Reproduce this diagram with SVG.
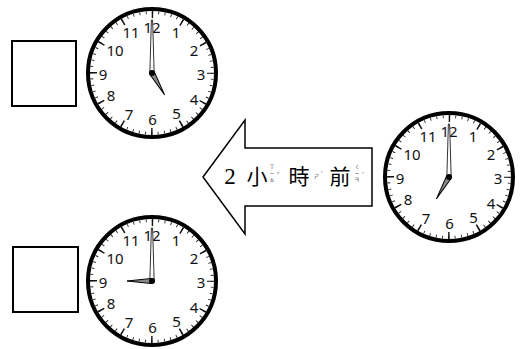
<svg xmlns="http://www.w3.org/2000/svg" width="520" height="349" viewBox="0 0 520 349">
  <style>
    .num { font-family: "Noto Sans", "Liberation Sans", sans-serif; font-size: 15px; fill: #111; text-anchor: middle; dominant-baseline: central; }
    .ring { fill: #fff; stroke: #000; stroke-width: 4; }
    .mtick { fill: none; stroke: #222; stroke-width: 3; stroke-dasharray: 0.9 5.4355; stroke-dashoffset: 0.45; }
    .htick { fill: none; stroke: #111; stroke-width: 7; stroke-dasharray: 1.5 29.131; stroke-dashoffset: 0.75; }
    .minute { fill: #fff; stroke: #333; stroke-width: 1; stroke-linejoin: round; }
    .hour { fill: #8a8a8a; stroke: #000; stroke-width: 1; stroke-linejoin: round; }
    .box { fill: #fff; stroke: #000; stroke-width: 2; }
    .arrow { fill: #fff; stroke: #000; stroke-width: 1.5; stroke-linejoin: miter; }
    .big { font-family: "Noto Sans CJK TC", "Noto Sans CJK SC", sans-serif; font-size: 21px; fill: #000; text-anchor: middle; }
    .digit { font-family: "Liberation Serif", serif; font-size: 23px; fill: #000; text-anchor: middle; }
    .zy { font-family: "Noto Sans CJK TC", "Noto Sans CJK SC", sans-serif; font-size: 4.5px; fill: #000; text-anchor: middle; }
  </style>
  <defs>
    <g id="face">
      <circle class="ring" r="64"/>
      <circle class="mtick" r="60.5"/>
      <circle class="htick" r="58.5"/>
      <text class="num" x="0" y="-46">12</text>
      <text class="num" x="24" y="-41">1</text>
      <text class="num" x="42" y="-23">2</text>
      <text class="num" x="49" y="1">3</text>
      <text class="num" x="42" y="26">4</text>
      <text class="num" x="24.5" y="40">5</text>
      <text class="num" x="0.5" y="46">6</text>
      <text class="num" x="-23" y="41">7</text>
      <text class="num" x="-41" y="22">8</text>
      <text class="num" x="-49" y="1">9</text>
      <text class="num" x="-37" y="-23">10</text>
      <text class="num" x="-21" y="-41">11</text>
    </g>
    <polygon id="minHand" class="minute" points="-2.2,1 -0.6,-53 0.6,-53 2.2,1"/>
    <polygon id="hourHand" class="hour" points="-2.6,0 0,-25 2.6,0"/>
  </defs>

  <g id="box-top">
    <rect class="box" x="12" y="41" width="64" height="65"/>
  </g>
  <g id="box-bottom">
    <rect class="box" x="13" y="247" width="65" height="65"/>
  </g>

  <g id="clock-top" transform="translate(152,73)">
    <use href="#face"/>
    <use href="#minHand"/>
    <use href="#hourHand" transform="rotate(150)"/>
    <circle r="3" fill="#000"/>
  </g>

  <g id="clock-bottom" transform="translate(152,281)">
    <use href="#face"/>
    <use href="#minHand"/>
    <use href="#hourHand" transform="rotate(270)"/>
    <circle r="3" fill="#000"/>
  </g>

  <g id="clock-right" transform="translate(449,177)">
    <use href="#face"/>
    <use href="#minHand"/>
    <use href="#hourHand" transform="rotate(210)"/>
    <circle r="3" fill="#000"/>
  </g>

  <g id="arrow">
    <polygon class="arrow" points="203,177 245,120 245,148 372,148 372,206 245,206 245,234"/>
    <text class="digit" x="230" y="184">2</text>
    <text class="big" x="257" y="184">小</text>
    <text class="zy" x="272" y="168">ㄒ</text>
    <text class="zy" x="272" y="174.5">ㄧ</text>
    <text class="zy" x="272" y="181">ㄠ</text>
    <text class="zy" x="278" y="176">ˇ</text>
    <text class="big" x="299" y="184">時</text>
    <text class="zy" x="316.5" y="178">ㄕ</text>
    <text class="zy" x="321.5" y="175">ˊ</text>
    <text class="big" x="340" y="184">前</text>
    <text class="zy" x="357" y="168">ㄑ</text>
    <text class="zy" x="357" y="174.5">ㄧ</text>
    <text class="zy" x="357" y="181">ㄢ</text>
    <text class="zy" x="363" y="176">ˊ</text>
  </g>
</svg>
